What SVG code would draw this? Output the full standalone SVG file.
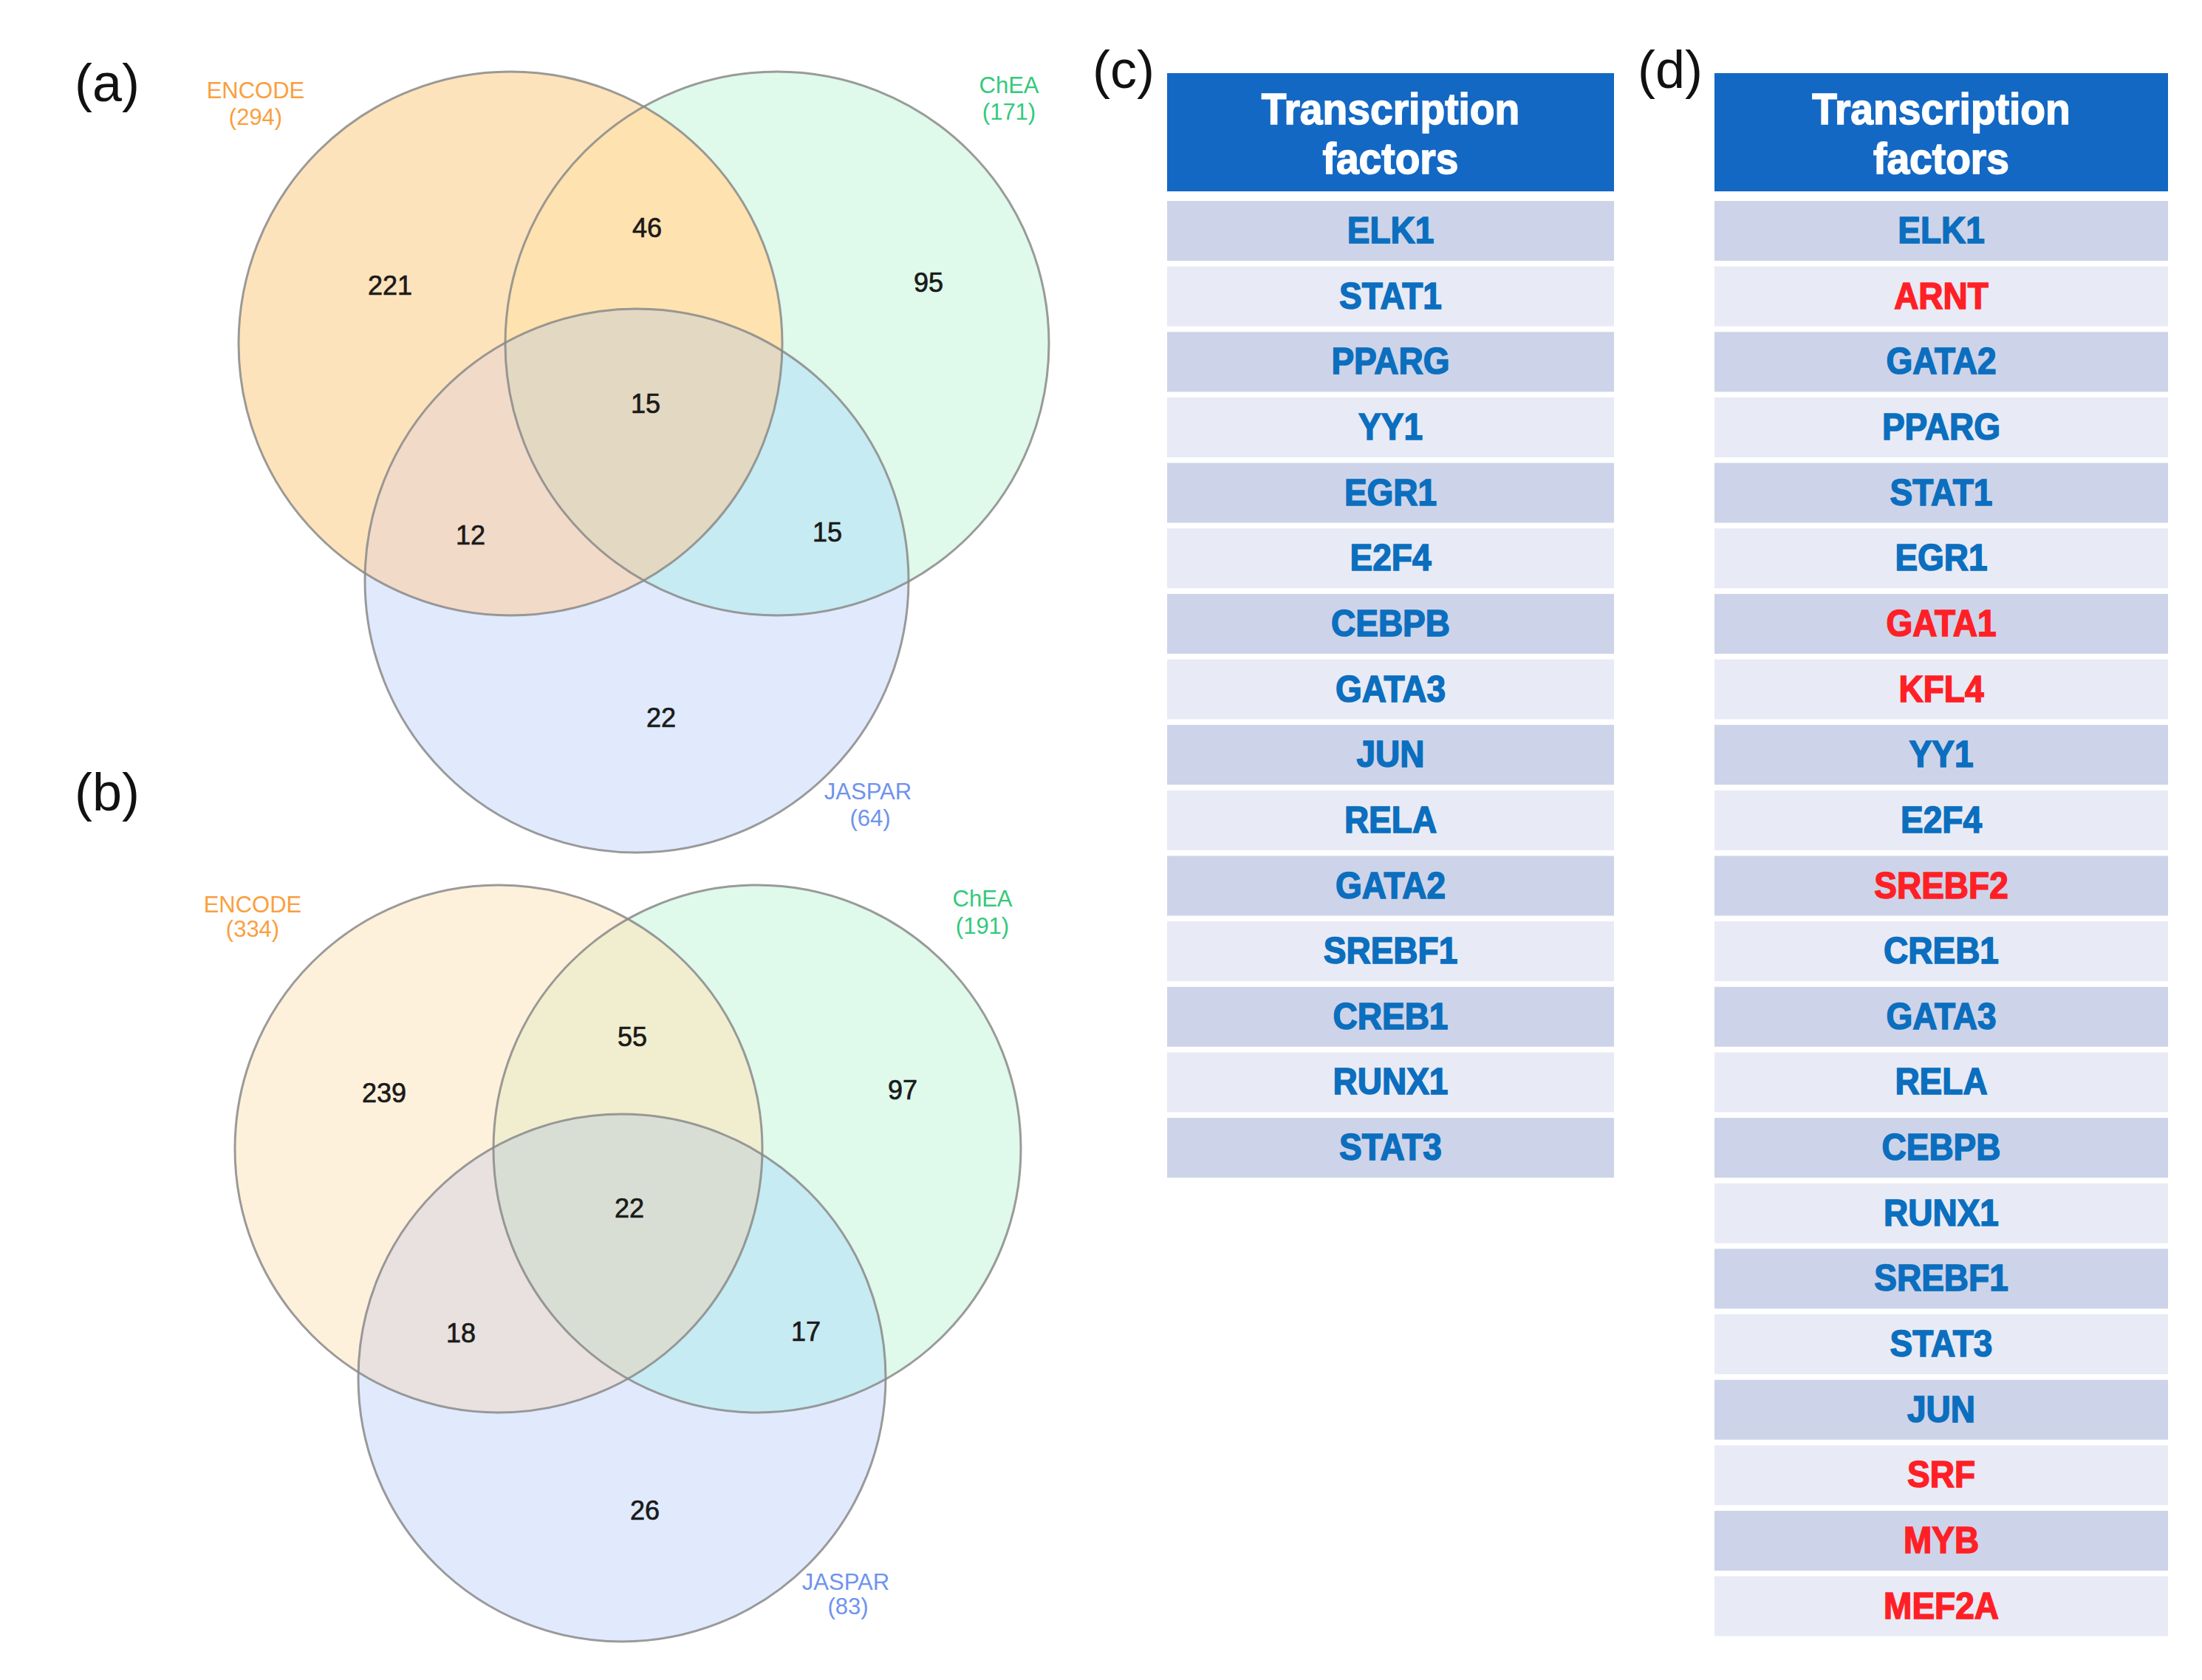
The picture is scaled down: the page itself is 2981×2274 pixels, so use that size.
<svg xmlns="http://www.w3.org/2000/svg" width="2981" height="2274" viewBox="0 0 2981 2274">
<style>
  .panel{font-family:"Liberation Sans",Arial,sans-serif;font-size:72px;fill:#111;text-anchor:middle}
  .num{font-family:"Liberation Sans",Arial,sans-serif;font-size:36px;fill:#1a1a1a;stroke:#1a1a1a;stroke-width:0.7;text-anchor:middle}
  .lab{font-family:"Liberation Sans",Arial,sans-serif;font-size:31px;text-anchor:middle}
  .enc{fill:#F9A03F}.chea{fill:#34C97A}.jas{fill:#6E93EE}
  .ring{fill:none;stroke:#8a8a8a;stroke-width:3;stroke-opacity:0.85}
  .hdr{fill:#1368C4}
  .hdrt{font-family:"Liberation Sans",Arial,sans-serif;font-weight:bold;font-size:60px;fill:#fff;stroke:#fff;stroke-width:1.6;text-anchor:middle}
  .dk{fill:#CDD4E9}.lt{fill:#E8EBF5}
  .tf{font-family:"Liberation Sans",Arial,sans-serif;font-weight:bold;font-size:50px;fill:#0B6EBE;stroke:#0B6EBE;stroke-width:1.6;text-anchor:middle}
  .red{fill:#FF1F26;stroke:#FF1F26}
</style>
<defs>
  <clipPath id="cEa"><circle cx="691" cy="465" r="368"/></clipPath>
  <clipPath id="cCa"><circle cx="1052" cy="465" r="368"/></clipPath>
  <clipPath id="cEb"><circle cx="675" cy="1555" r="357"/></clipPath>
  <clipPath id="cCb"><circle cx="1025" cy="1555" r="357"/></clipPath>
</defs>
<rect width="2981" height="2274" fill="#fff"/>

<text class="panel" x="145" y="137">(a)</text>
<text class="panel" x="145" y="1097">(b)</text>
<text class="panel" x="1521" y="119">(c)</text>
<text class="panel" x="2261" y="119">(d)</text>

<g id="venn-a">
  <circle cx="691" cy="465" r="368" fill="#FDE3BB"/>
  <circle cx="1052" cy="465" r="368" fill="#DFF9EB"/>
  <circle cx="862" cy="786" r="368" fill="#E0EAFC"/>
  <circle cx="1052" cy="465" r="368" fill="#FEE2AF" clip-path="url(#cEa)"/>
  <circle cx="862" cy="786" r="368" fill="#F1DAC8" clip-path="url(#cEa)"/>
  <circle cx="862" cy="786" r="368" fill="#C6EBF2" clip-path="url(#cCa)"/>
  <g clip-path="url(#cEa)"><circle cx="862" cy="786" r="368" fill="#E3D8C1" clip-path="url(#cCa)"/></g>
  <circle class="ring" cx="691" cy="465" r="368"/>
  <circle class="ring" cx="1052" cy="465" r="368"/>
  <circle class="ring" cx="862" cy="786" r="368"/>
  <text class="num" x="528" y="399">221</text>
  <text class="num" x="876" y="321">46</text>
  <text class="num" x="1257" y="395">95</text>
  <text class="num" x="874" y="559">15</text>
  <text class="num" x="637" y="737">12</text>
  <text class="num" x="1120" y="733">15</text>
  <text class="num" x="895" y="984">22</text>
  <text class="lab enc" x="346" y="133">ENCODE</text>
  <text class="lab enc" x="346" y="169">(294)</text>
  <text class="lab chea" x="1366" y="126">ChEA</text>
  <text class="lab chea" x="1366" y="162">(171)</text>
  <text class="lab jas" x="1175" y="1082">JASPAR</text>
  <text class="lab jas" x="1178" y="1118">(64)</text>
</g>

<g id="venn-b">
  <circle cx="675" cy="1555" r="357" fill="#FEF1DC"/>
  <circle cx="1025" cy="1555" r="357" fill="#DFF9EB"/>
  <circle cx="842" cy="1865" r="357" fill="#E0EAFC"/>
  <circle cx="1025" cy="1555" r="357" fill="#F1EECF" clip-path="url(#cEb)"/>
  <circle cx="842" cy="1865" r="357" fill="#E8E1DF" clip-path="url(#cEb)"/>
  <circle cx="842" cy="1865" r="357" fill="#C6EBF2" clip-path="url(#cCb)"/>
  <g clip-path="url(#cEb)"><circle cx="842" cy="1865" r="357" fill="#D9DED4" clip-path="url(#cCb)"/></g>
  <circle class="ring" cx="675" cy="1555" r="357"/>
  <circle class="ring" cx="1025" cy="1555" r="357"/>
  <circle class="ring" cx="842" cy="1865" r="357"/>
  <text class="num" x="520" y="1492">239</text>
  <text class="num" x="856" y="1416">55</text>
  <text class="num" x="1222" y="1488">97</text>
  <text class="num" x="852" y="1648">22</text>
  <text class="num" x="624" y="1817">18</text>
  <text class="num" x="1091" y="1815">17</text>
  <text class="num" x="873" y="2057">26</text>
  <text class="lab enc" x="342" y="1235">ENCODE</text>
  <text class="lab enc" x="342" y="1268">(334)</text>
  <text class="lab chea" x="1330" y="1227">ChEA</text>
  <text class="lab chea" x="1330" y="1264">(191)</text>
  <text class="lab jas" x="1145" y="2152">JASPAR</text>
  <text class="lab jas" x="1148" y="2185">(83)</text>
</g>

<g id="table-c">
  <rect class="hdr" x="1580" y="99" width="605" height="160"/>
  <text class="hdrt" transform="translate(1882.5 168) scale(0.92 1)">Transcription</text>
  <text class="hdrt" transform="translate(1882.5 235) scale(0.92 1)">factors</text>
  <rect class="dk" x="1580" y="272" width="605" height="81"/>
  <rect class="lt" x="1580" y="360.65" width="605" height="81"/>
  <rect class="dk" x="1580" y="449.3" width="605" height="81"/>
  <rect class="lt" x="1580" y="537.95" width="605" height="81"/>
  <rect class="dk" x="1580" y="626.6" width="605" height="81"/>
  <rect class="lt" x="1580" y="715.25" width="605" height="81"/>
  <rect class="dk" x="1580" y="803.9" width="605" height="81"/>
  <rect class="lt" x="1580" y="892.55" width="605" height="81"/>
  <rect class="dk" x="1580" y="981.2" width="605" height="81"/>
  <rect class="lt" x="1580" y="1069.85" width="605" height="81"/>
  <rect class="dk" x="1580" y="1158.5" width="605" height="81"/>
  <rect class="lt" x="1580" y="1247.15" width="605" height="81"/>
  <rect class="dk" x="1580" y="1335.8" width="605" height="81"/>
  <rect class="lt" x="1580" y="1424.45" width="605" height="81"/>
  <rect class="dk" x="1580" y="1513.1" width="605" height="81"/>
  <text class="tf" transform="translate(1882.5 329) scale(0.92 1)">ELK1</text>
  <text class="tf" transform="translate(1882.5 417.65) scale(0.92 1)">STAT1</text>
  <text class="tf" transform="translate(1882.5 506.3) scale(0.92 1)">PPARG</text>
  <text class="tf" transform="translate(1882.5 594.95) scale(0.92 1)">YY1</text>
  <text class="tf" transform="translate(1882.5 683.6) scale(0.92 1)">EGR1</text>
  <text class="tf" transform="translate(1882.5 772.25) scale(0.92 1)">E2F4</text>
  <text class="tf" transform="translate(1882.5 860.9) scale(0.92 1)">CEBPB</text>
  <text class="tf" transform="translate(1882.5 949.55) scale(0.92 1)">GATA3</text>
  <text class="tf" transform="translate(1882.5 1038.2) scale(0.92 1)">JUN</text>
  <text class="tf" transform="translate(1882.5 1126.85) scale(0.92 1)">RELA</text>
  <text class="tf" transform="translate(1882.5 1215.5) scale(0.92 1)">GATA2</text>
  <text class="tf" transform="translate(1882.5 1304.15) scale(0.92 1)">SREBF1</text>
  <text class="tf" transform="translate(1882.5 1392.8) scale(0.92 1)">CREB1</text>
  <text class="tf" transform="translate(1882.5 1481.45) scale(0.92 1)">RUNX1</text>
  <text class="tf" transform="translate(1882.5 1570.1) scale(0.92 1)">STAT3</text>
</g>

<g id="table-d">
  <rect class="hdr" x="2321" y="99" width="614" height="160"/>
  <text class="hdrt" transform="translate(2628 168) scale(0.92 1)">Transcription</text>
  <text class="hdrt" transform="translate(2628 235) scale(0.92 1)">factors</text>
  <rect class="dk" x="2321" y="272" width="614" height="81"/>
  <rect class="lt" x="2321" y="360.65" width="614" height="81"/>
  <rect class="dk" x="2321" y="449.3" width="614" height="81"/>
  <rect class="lt" x="2321" y="537.95" width="614" height="81"/>
  <rect class="dk" x="2321" y="626.6" width="614" height="81"/>
  <rect class="lt" x="2321" y="715.25" width="614" height="81"/>
  <rect class="dk" x="2321" y="803.9" width="614" height="81"/>
  <rect class="lt" x="2321" y="892.55" width="614" height="81"/>
  <rect class="dk" x="2321" y="981.2" width="614" height="81"/>
  <rect class="lt" x="2321" y="1069.85" width="614" height="81"/>
  <rect class="dk" x="2321" y="1158.5" width="614" height="81"/>
  <rect class="lt" x="2321" y="1247.15" width="614" height="81"/>
  <rect class="dk" x="2321" y="1335.8" width="614" height="81"/>
  <rect class="lt" x="2321" y="1424.45" width="614" height="81"/>
  <rect class="dk" x="2321" y="1513.1" width="614" height="81"/>
  <rect class="lt" x="2321" y="1601.75" width="614" height="81"/>
  <rect class="dk" x="2321" y="1690.4" width="614" height="81"/>
  <rect class="lt" x="2321" y="1779.05" width="614" height="81"/>
  <rect class="dk" x="2321" y="1867.7" width="614" height="81"/>
  <rect class="lt" x="2321" y="1956.35" width="614" height="81"/>
  <rect class="dk" x="2321" y="2045" width="614" height="81"/>
  <rect class="lt" x="2321" y="2133.65" width="614" height="81"/>
  <text class="tf" transform="translate(2628 329) scale(0.92 1)">ELK1</text>
  <text class="tf red" transform="translate(2628 417.65) scale(0.92 1)">ARNT</text>
  <text class="tf" transform="translate(2628 506.3) scale(0.92 1)">GATA2</text>
  <text class="tf" transform="translate(2628 594.95) scale(0.92 1)">PPARG</text>
  <text class="tf" transform="translate(2628 683.6) scale(0.92 1)">STAT1</text>
  <text class="tf" transform="translate(2628 772.25) scale(0.92 1)">EGR1</text>
  <text class="tf red" transform="translate(2628 860.9) scale(0.92 1)">GATA1</text>
  <text class="tf red" transform="translate(2628 949.55) scale(0.92 1)">KFL4</text>
  <text class="tf" transform="translate(2628 1038.2) scale(0.92 1)">YY1</text>
  <text class="tf" transform="translate(2628 1126.85) scale(0.92 1)">E2F4</text>
  <text class="tf red" transform="translate(2628 1215.5) scale(0.92 1)">SREBF2</text>
  <text class="tf" transform="translate(2628 1304.15) scale(0.92 1)">CREB1</text>
  <text class="tf" transform="translate(2628 1392.8) scale(0.92 1)">GATA3</text>
  <text class="tf" transform="translate(2628 1481.45) scale(0.92 1)">RELA</text>
  <text class="tf" transform="translate(2628 1570.1) scale(0.92 1)">CEBPB</text>
  <text class="tf" transform="translate(2628 1658.75) scale(0.92 1)">RUNX1</text>
  <text class="tf" transform="translate(2628 1747.4) scale(0.92 1)">SREBF1</text>
  <text class="tf" transform="translate(2628 1836.05) scale(0.92 1)">STAT3</text>
  <text class="tf" transform="translate(2628 1924.7) scale(0.92 1)">JUN</text>
  <text class="tf red" transform="translate(2628 2013.35) scale(0.92 1)">SRF</text>
  <text class="tf red" transform="translate(2628 2102) scale(0.92 1)">MYB</text>
  <text class="tf red" transform="translate(2628 2190.65) scale(0.92 1)">MEF2A</text>
</g>
</svg>
